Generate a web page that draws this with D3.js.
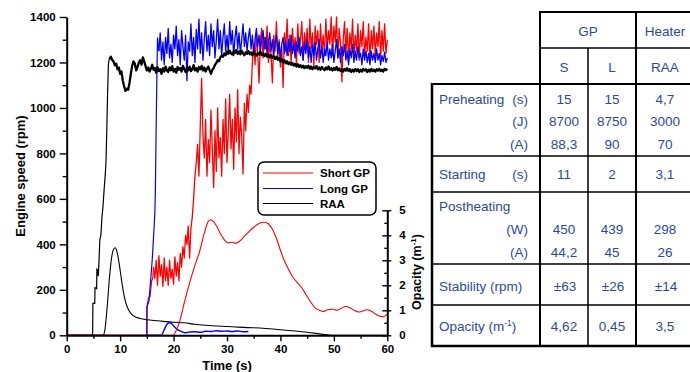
<!DOCTYPE html>
<html><head><meta charset="utf-8">
<script src="https://cdn.jsdelivr.net/npm/d3@7"></script>
<style>
html,body{margin:0;padding:0;background:#fff;}
svg{display:block;font-family:"Liberation Sans",Arial,Helvetica,sans-serif;}
</style></head><body>
<svg id="c" width="690" height="372"></svg>
<script>
// ---------------- DATA ----------------
const timeTicks=[0,10,20,30,40,50,60];
const timeMinor=[5,15,25,35,45,55];
const speedTicks=[0,200,400,600,800,1000,1200,1400];
const speedMinor=[100,300,500,700,900,1100,1300];
const opacityTicks=[0,1,2,3,4,5];
const opacityMinor=[0.5,1.5,2.5,3.5,4.5];
const seriesNames=["Short GP","Long GP","RAA"];
const seriesColors=["#ff0000","#0000ff","#000000"];
const noisyStep=0.25;

// Engine speed, RAA (black)
const raaRamp=[[0,0],[4.85,0],[4.9,140],[5.25,140],[5.3,210],[5.6,205],[5.65,290],[5.85,285],[5.9,260],[6.0,300],[6.2,420],[6.4,440],[6.6,520],[6.8,570],[7.0,640],[7.2,700],[7.35,760],[7.5,900],[7.65,1060],[7.8,1190],[7.9,1210]];
const raaStart=8.0;
const raaNoisy=[1215,1225,1212,1205,1188,1195,1170,1178,1150,1160,1120,1095,1075,1085,1080,1110,1150,1185,1205,1195,
1165,1180,1200,1210,1190,1222,1205,1185,1165,1178,1160,1172,1190,1168,1176,1155,1180,1162,1170,1150,
1175,1160,1182,1165,1158,1178,1166,1184,1160,1172,1155,1180,1168,1176,1160,1185,1170,1158,1178,1165,
1182,1162,1170,1188,1165,1175,1160,1180,1170,1185,1165,1178,1160,1172,1182,1165,1150,1168,1175,1190,
1198,1210,1205,1222,1230,1225,1240,1232,1248,1238,1252,1240,1235,1250,1242,1255,1238,1248,1236,1252,
1240,1232,1245,1238,1250,1236,1244,1232,1246,1238,1230,1242,1235,1248,1232,1240,1228,1238,1225,1235,
1222,1232,1220,1228,1215,1225,1212,1220,1205,1214,1200,1210,1196,1205,1192,1200,1190,1198,1186,1194,
1182,1192,1180,1188,1178,1186,1175,1184,1176,1186,1172,1182,1170,1180,1174,1184,1170,1178,1168,1180,
1172,1166,1178,1170,1182,1168,1175,1165,1176,1168,1180,1166,1174,1162,1170,1160,1172,1164,1175,1162,
1170,1158,1168,1160,1172,1162,1170,1158,1168,1160,1172,1164,1170,1158,1168,1160,1172,1162,1168,1160,
1170,1164,1172,1162,1168,1160,1172,1166,1172];

// Engine speed, Long GP (blue)
const longRamp=[[0,0],[15,0],[15.02,125],[15.4,150],[15.7,240],[16.0,330],[16.3,450],[16.5,540],[16.6,640],[16.75,930],[16.9,1170],[17.0,1310]];
const longStart=17.25;
const longNoisy=[1250,1330,1210,1290,1190,1310,1240,1350,1220,1280,1200,1320,1260,1360,1230,1300,1190,1340,1270,1210,
1320,1120,1290,1250,1370,1230,1310,1200,1345,1260,1390,1240,1330,1210,1300,1380,1250,1320,1230,1370,
1270,1340,1220,1300,1390,1260,1340,1230,1310,1370,1250,1320,1240,1380,1280,1340,1230,1310,1360,1260,
1330,1240,1300,1370,1270,1330,1250,1310,1350,1260,1320,1240,1300,1350,1270,1320,1250,1300,1340,1260,
1310,1240,1290,1330,1250,1300,1230,1290,1320,1240,1290,1220,1280,1310,1240,1290,1230,1300,1250,1320,
1240,1280,1220,1290,1250,1310,1230,1270,1210,1290,1240,1300,1220,1270,1200,1280,1230,1290,1210,1260,
1300,1220,1270,1200,1260,1230,1290,1210,1260,1220,1280,1200,1250,1300,1220,1260,1200,1270,1230,1280,
1210,1250,1190,1260,1220,1280,1200,1250,1210,1270,1220,1240,1190,1260,1210,1250,1200,1240,1190,1250,
1210,1240,1200,1260,1210,1240,1190,1230,1205,1245,1200,1220];

// Engine speed, Short GP (red)
const shortRamp=[[0,0],[15,0],[15.02,125],[15.3,165],[15.6,170],[15.9,240],[16.1,250]];
const shortStart=16.25;
const shortNoisy=[300,250,330,220,350,260,310,215,340,240,300,220,330,250,290,225,345,260,320,240,
360,300,390,340,440,400,480,340,470,520,600,700,760,840,700,920,1130,880,780,950,
700,860,760,990,820,650,900,720,1000,780,870,700,950,800,1040,760,900,1060,820,950,
730,1000,850,1080,800,960,880,710,1020,900,1060,980,1100,1060,1200,1280,1190,1330,1240,1110,
1300,1350,1220,1310,1260,1360,1200,1290,1230,1110,1320,1250,1380,1220,1300,1180,1270,1090,1330,1250,
1390,1230,1320,1200,1350,1260,1310,1190,1370,1240,1300,1380,1210,1330,1270,1350,1200,1390,1260,1330,
1180,1360,1280,1340,1200,1370,1250,1320,1230,1390,1260,1340,1280,1400,1230,1360,1290,1400,1220,1350,
1280,1115,1300,1380,1240,1350,1200,1330,1260,1390,1220,1320,1250,1370,1210,1340,1270,1380,1230,1310,
1250,1370,1200,1340,1260,1360,1230,1330,1270,1380,1220,1340,1250,1370,1240,1300];

// Opacity (m-1)
const raaOpacity=[[0,0],[6.8,0],[7.2,0.3],[7.6,1.2],[8.0,2.3],[8.4,3.1],[8.8,3.45],[9.1,3.5],[9.4,3.35],[9.8,2.9],[10.2,2.3],[10.6,1.75],[11.0,1.35],[11.5,1.05],[12.0,0.88],[13.0,0.72],[14.0,0.66],[15.0,0.62],[17.0,0.58],[20.0,0.52],[22.0,0.5],[24.0,0.44],[26.0,0.4],[30.0,0.35],[35.0,0.3],[40.0,0.22],[45.0,0.12],[48.8,0.02],[50,0],[60,0]];
const longOpacity=[[15,0],[17.7,0],[18.2,0.2],[18.7,0.42],[19.2,0.5],[19.7,0.45],[20.2,0.33],[20.8,0.22],[21.5,0.15],[22.3,0.1],[23.0,0.13],[24.0,0.14],[25.0,0.12],[26.0,0.16],[27.0,0.15],[28.0,0.18],[29.0,0.16],[30.0,0.17],[31.0,0.15],[32.0,0.17],[33.0,0.14],[34.0,0.15]];
const shortOpacity=[[0,0],[19.9,0],[20.4,0.15],[21.2,0.6],[22,1.3],[23,2.1],[24,2.8],[24.8,3.3],[25.4,3.8],[25.9,4.2],[26.4,4.52],[26.9,4.62],[27.5,4.55],[28.1,4.35],[28.8,4.05],[29.5,3.82],[30.2,3.7],[31,3.72],[31.6,3.68],[32.3,3.75],[33,3.9],[34,4.12],[35,4.32],[36,4.47],[37,4.52],[37.8,4.45],[38.6,4.2],[39.3,3.85],[40,3.4],[40.8,2.95],[41.6,2.6],[42.4,2.3],[43.2,2.1],[44,1.9],[44.8,1.62],[45.6,1.35],[46.4,1.12],[47.3,1.0],[48,0.95],[48.8,1.02],[49.8,1.04],[50.6,1.0],[51.4,1.08],[52.2,1.15],[53,1.1],[53.8,1.0],[54.6,0.93],[55.4,0.97],[56.2,1.02],[57,0.96],[57.8,0.85],[58.6,0.76],[59.3,0.74],[59.7,0.8],[60,0.86]];

// Table
const headGroups=["GP","Heater"];
const headSub=["S","L","RAA"];
const rowNames=["Preheating","Starting","Postheating","Stability (rpm)","Opacity (m"];
const rowUnits=[["(s)","(J)","(A)"],["(s)"],["","(W)","(A)"],[],[]];
const valS=[["15","8700","88,3"],["11"],["","450","44,2"],["\u00B163"],["4,62"]];
const valL=[["15","8750","90"],["2"],["","439","45"],["\u00B126"],["0,45"]];
const valRAA=[["4,7","3000","70"],["3,1"],["","298","26"],["\u00B114"],["3,5"]];

// ---------------- CHART ----------------
const svg=d3.select("#c");
const x=d3.scaleLinear().domain([0,60]).range([66.7,387.3]);
const y=d3.scaleLinear().domain([0,1400]).range([335.3,17]);
const yo=d3.scaleLinear().domain([0,5]).range([335.3,210.3]);
const fmt=d3.format("d");

function noisyPts(start,noisy){return noisy.map((v,i)=>[start+i*noisyStep,v]);}
const rampSeries=[shortRamp,longRamp,raaRamp];
const noisySeries=[noisyPts(shortStart,shortNoisy),noisyPts(longStart,longNoisy),noisyPts(raaStart,raaNoisy)];
const opSeries=[shortOpacity,longOpacity,raaOpacity];

const lineS=d3.line().x(d=>x(d[0])).y(d=>y(d[1]));
const lineO=d3.line().x(d=>x(d[0])).y(d=>yo(d[1])).curve(d3.curveMonotoneX);

const g=svg.append("g");
const widths=[1.3,1.3,2.3];
[0,1,2].forEach(i=>{
  const ramp=rampSeries[i], nz=noisySeries[i];
  g.append("path").attr("d",lineS(ramp.concat([nz[0]]))).attr("fill","none").attr("stroke",seriesColors[i]).attr("stroke-width",1.2);
  g.append("path").attr("d",lineS(nz)).attr("fill","none").attr("stroke",seriesColors[i]).attr("stroke-width",widths[i]).attr("stroke-linejoin","round");
});
[2,1,0].forEach(i=>{
  g.append("path").attr("d",lineO(opSeries[i])).attr("fill","none").attr("stroke",seriesColors[i]).attr("stroke-width",i===1?1.4:1.1);
});

// axes
function styleAxis(sel,dw){
  sel.selectAll(".domain").attr("stroke","#000").attr("stroke-width",dw);
  sel.selectAll(".tick line").attr("stroke","#000").attr("stroke-width",1.4);
  sel.selectAll("text").attr("font-weight","bold").attr("font-size","11.5px").attr("fill","#000");
}
const ax=svg.append("g").attr("transform","translate(0,335.3)");
ax.call(d3.axisBottom(x).tickValues(timeTicks).tickFormat(fmt).tickSize(6).tickSizeOuter(0).tickPadding(4));
styleAxis(ax,2);
const axm=svg.append("g").attr("transform","translate(0,335.3)");
axm.call(d3.axisBottom(x).tickValues(timeMinor).tickSize(3.5).tickFormat("").tickSizeOuter(0));
styleAxis(axm,0);

const ay=svg.append("g").attr("transform","translate(66.7,0)");
ay.call(d3.axisLeft(y).tickValues(speedTicks).tickFormat(fmt).tickSize(7).tickSizeOuter(0).tickPadding(4));
styleAxis(ay,2);
const aym=svg.append("g").attr("transform","translate(66.7,0)");
aym.call(d3.axisLeft(y).tickValues(speedMinor).tickSize(4).tickFormat("").tickSizeOuter(0));
styleAxis(aym,0);

const ar=svg.append("g").attr("transform","translate(387.3,0)");
ar.call(d3.axisRight(yo).tickValues(opacityTicks).tickFormat(fmt).tickSize(4).tickSizeOuter(0).tickPadding(8));
styleAxis(ar,2);
ar.selectAll(".tick line").attr("x1",-5);
const arm=svg.append("g").attr("transform","translate(387.3,0)");
arm.call(d3.axisLeft(yo).tickValues(opacityMinor).tickSize(3).tickFormat("").tickSizeOuter(0));
styleAxis(arm,0);

// titles
svg.append("text").attr("x",227).attr("y",370).attr("text-anchor","middle").attr("font-weight","bold").attr("font-size","13px").text("Time (s)");
svg.append("text").attr("transform","translate(25,176) rotate(-90)").attr("text-anchor","middle").attr("font-weight","bold").attr("font-size","13px").text("Engine speed (rpm)");
const ot=svg.append("text").attr("transform","translate(421,272) rotate(-90)").attr("text-anchor","middle").attr("font-weight","bold").attr("font-size","12.5px");
ot.append("tspan").text("Opacity (m");
ot.append("tspan").attr("dy",-5).attr("font-size","8px").text("-1");
ot.append("tspan").attr("dy",5).text(")");

// legend
const lg=svg.append("g");
lg.append("rect").attr("x",258).attr("y",162).attr("width",118).attr("height",53).attr("rx",6).attr("fill","#fff").attr("stroke","#000").attr("stroke-width",1.5);
const legY=[173,188.5,203.5];
seriesNames.forEach((n,i)=>{
  lg.append("line").attr("x1",263).attr("x2",313).attr("y1",legY[i]).attr("y2",legY[i]).attr("stroke",seriesColors[i]).attr("stroke-width",1.2);
  lg.append("text").attr("x",320).attr("y",legY[i]+4).attr("font-weight","bold").attr("font-size","11.5px").text(n);
});

// ---------------- TABLE ----------------
const T=svg.append("g");
const blue="#2b49a2";
function hl(x1,x2,yy,w){T.append("line").attr("x1",x1).attr("x2",x2).attr("y1",yy).attr("y2",yy).attr("stroke","#000").attr("stroke-width",w);}
function vl(xx,y1,y2,w){T.append("line").attr("x1",xx).attr("x2",xx).attr("y1",y1).attr("y2",y2).attr("stroke","#000").attr("stroke-width",w);}
hl(539,692,12,2);
hl(540,692,48,1.5);
hl(431,692,84,2);
const rowLines=[156,192,264,305];
rowLines.forEach(v=>hl(432,692,v,1.5));
hl(431,692,346,2.5);
vl(432,83,347,2.5);
vl(540,11,347,2);
vl(588,48,346,1.5);
vl(636,11,347,2);

function tx(xx,yy,s,anchor){return T.append("text").attr("x",xx).attr("y",yy).attr("dy","0.35em").attr("text-anchor",anchor||"middle").attr("fill",blue).attr("font-size","13.5px").text(s);}
const colX=[564,612,665];
tx(588,31,headGroups[0]);
tx(665,31,headGroups[1]);
headSub.forEach((h,i)=>tx(colX[i],67,h));

const rowLineY=[[99,121,144],[174.5],[206,229,252],[286],[326]];
rowNames.forEach((n,r)=>{
  const t=tx(439,rowLineY[r][0],n,"start");
  if(r===4){t.append("tspan").attr("dy",-5).attr("font-size","8.5px").text("-1");t.append("tspan").attr("dy",5).text(")");}
  rowUnits[r].forEach((u,k)=>{ if(u) tx(528,rowLineY[r][k],u,"end"); });
  [valS,valL,valRAA].forEach((arr,c)=>{
    arr[r].forEach((v,k)=>{ if(v) tx(colX[c]+(r===3?1:0),rowLineY[r][k],v); });
  });
});
</script>
</body></html>
